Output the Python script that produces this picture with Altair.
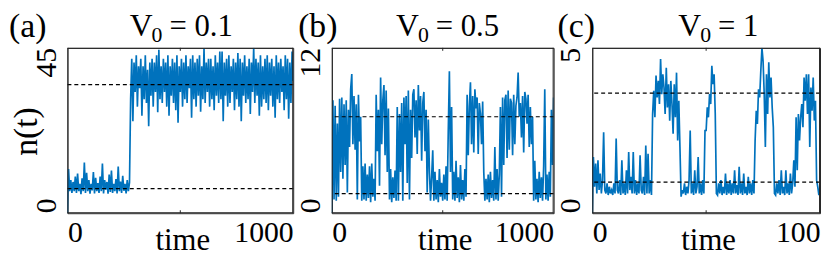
import altair as alt
import pandas as pd
import numpy as np

FONT = "Liberation Serif"
BLUE = "#0072BD"
FRAME = "#262626"

# ---------------- data ----------------
# panel (a): V0 = 0.1, time 0..275 (step 5) in the low state, 280..1000 (step 5) high state
A_LOW = [0, 12, 6, 9, 5.5, 8.5, 6, 10, 5.5, 10.8,
         6, 8, 5.2, 9.5, 6, 13.8, 5.5, 11, 6, 9,
         5.3, 8, 6.2, 11.2, 5.4, 9.6, 6, 8.2, 5.5, 10,
         6, 13.5, 5.4, 9, 6.4, 8.5, 5.3, 10.5, 5.8, 11.6,
         5.5, 8, 6, 9.3, 5.4, 12.7, 6, 8.6, 5.5, 10.2,
         6.1, 8, 5.4, 9, 6, 8.4]
A_HIGH = [31, 42, 25, 41, 33, 43, 29, 40, 34, 42,
          26.5, 40, 31, 43, 30, 39, 23.7, 41, 32, 42,
          29, 41, 33, 43, 27.5, 44.5, 31, 40, 30, 42,
          33, 41, 29, 43, 26.5, 40, 32, 42, 30, 41,
          28, 43, 24.6, 40, 33, 42, 29, 41, 31, 43,
          30, 40, 34, 42, 26, 43, 31, 41, 29, 42,
          32, 43, 27.6, 40, 31, 44.8, 30, 41, 33, 42,
          29, 42, 31, 40, 28, 43, 32, 41, 30, 44,
          31, 44, 25, 41, 32, 42, 29, 43, 30, 40,
          33, 42, 28, 41, 31, 43.6, 29, 42, 25, 41,
          32, 43, 30, 40, 31, 42, 27, 41, 33, 45,
          30, 42, 32, 41, 26.5, 43, 29, 40, 31, 42,
          30, 43, 28, 41, 32, 42, 29, 40, 26, 43,
          31, 41, 30, 42, 33, 40, 28, 43, 31, 42,
          25.7, 41, 30, 44, 36]
A_REFS = [35, 6.7]

# panel (b): V0 = 0.5, time 0..1000 step 5
B_VALUES = [0, 8.2, 1.0, 7.8, 0.9, 6.5, 1.2, 8.3, 3.0, 8.4,
            2.5, 7.9, 3.5, 8.2, 1.5, 7.5, 4.8, 9.0, 10.1, 5.0,
            8.5, 4.6, 7.9, 1.0, 8.6, 5.2, 7.0, 0.9, 3.4, 1.0,
            3.6, 0.9, 2.8, 1.1, 3.4, 0.8, 3.6, 1.2, 2.5, 0.9,
            8.6, 4.5, 7.5, 2.0, 9.85, 5.0, 8.2, 9.3, 4.2, 8.9,
            3.0, 7.6, 1.0, 3.2, 0.8, 2.6, 1.1, 3.1, 0.9, 7.7,
            0.9, 7.2, 3.0, 8.0, 0.9, 8.4, 5.0, 8.5, 2.2, 8.9,
            1.0, 7.5, 4.0, 8.6, 9.0, 5.5, 8.2, 4.3, 9.3, 6.0,
            8.5, 3.8, 8.0, 8.8, 4.5, 7.5, 1.5, 6.8, 3.0, 0.9,
            2.6, 4.56, 0.9, 3.0, 1.0, 2.4, 0.8, 3.2, 1.2, 2.2,
            0.9, 2.8, 1.0, 3.4, 0.9, 6.0, 10.3, 3.0, 7.7, 1.0,
            3.0, 0.9, 3.8, 1.1, 2.6, 0.8, 3.5, 1.0, 2.4, 0.9,
            3.2, 1.2, 8.6, 4.2, 7.8, 9.5, 5.0, 8.5, 4.4, 9.0,
            7.6, 8.4, 4.3, 8.0, 7.2, 5.0, 8.1, 3.0, 0.9, 2.5,
            1.0, 2.8, 0.8, 3.0, 1.1, 2.4, 0.9, 4.8, 1.0, 3.2,
            0.9, 2.8, 7.7, 1.2, 8.4, 3.5, 8.2, 8.6, 4.0, 8.9,
            4.6, 8.3, 8.0, 4.2, 8.6, 5.0, 7.8, 8.4, 10.2, 7.0,
            8.0, 5.5, 8.5, 4.4, 8.8, 8.3, 6.5, 8.6, 4.8, 7.7,
            5.0, 7.0, 0.9, 3.8, 1.0, 2.5, 0.8, 3.0, 1.1, 2.6,
            0.9, 3.4, 9.0, 1.0, 2.8, 0.9, 3.0, 1.2, 7.5, 3.5,
            8.4]
B_REFS = [7.0, 1.42]

# panel (c): V0 = 1, time 0..100 step 0.5
C_VALUES = [0, 1.7, 0.8, 1.5, 0.6, 1.6, 0.7, 1.2, 0.6, 1.0,
            2.45, 0.7, 0.6, 0.9, 0.55, 0.8, 0.6, 0.7, 0.55, 0.9,
            0.6, 2.26, 0.7, 0.6, 1.0, 0.55, 1.6, 0.6, 0.9, 0.55,
            1.3, 0.6, 1.85, 0.7, 1.1, 0.6, 1.85, 0.6, 1.0, 0.55,
            0.9, 0.6, 1.75, 0.7, 0.6, 1.1, 0.55, 2.05, 0.6, 1.8,
            0.6, 1.0, 0.55, 3.0, 3.7, 2.9, 4.16, 3.5, 4.0, 3.3,
            4.66, 3.6, 4.2, 3.8, 3.0, 4.4, 3.2, 3.9, 2.8, 4.0,
            3.3, 2.4, 3.9, 2.9, 4.25, 2.2, 3.4, 2.0, 0.5, 0.7,
            0.6, 0.9, 0.55, 0.8, 0.6, 1.0, 2.5, 0.6, 0.9, 0.55,
            1.3, 0.6, 0.8, 1.7, 0.6, 0.9, 0.55, 1.0, 0.6, 2.5,
            2.5, 3.2, 2.9, 3.6, 3.3, 4.46, 3.9, 4.2, 3.0, 0.6,
            0.55, 0.9, 0.6, 1.0, 0.55, 0.8, 0.6, 1.2, 0.55, 0.9,
            0.6, 1.0, 0.55, 0.9, 0.6, 1.3, 0.6, 0.85, 0.55, 1.4,
            0.6, 0.9, 0.55, 1.2, 0.6, 0.8, 0.55, 1.1, 0.6, 0.9,
            0.55, 1.0, 0.6, 2.2, 3.1, 2.7, 3.75, 3.5, 4.3, 5.0,
            4.6, 3.6, 2.0, 4.2, 3.0, 4.56, 3.5, 4.1, 3.2, 2.6,
            0.6, 0.55, 0.9, 0.6, 1.0, 0.55, 1.3, 0.6, 0.8, 0.55,
            1.3, 0.6, 0.9, 0.55, 1.2, 0.6, 0.9, 1.6, 0.8, 2.9,
            1.3, 3.0, 2.2, 2.9, 3.3, 2.6, 4.1, 3.4, 4.2, 3.0,
            4.2, 2.0, 3.8, 3.1, 4.1, 2.8, 3.4, 1.0, 0.8, 0.55,
            0.8]
C_REFS = [3.63, 0.94]

# time grids (sampling instants of the traces)
a_t = list(np.arange(len(A_LOW)) * 5.0) + list(280 + np.arange(len(A_HIGH)) * 5.0)
df_a = pd.DataFrame({"t": a_t, "n": A_LOW + A_HIGH})
df_b = pd.DataFrame({"t": np.arange(len(B_VALUES)) * 5.0, "n": B_VALUES})
df_c = pd.DataFrame({"t": np.arange(len(C_VALUES)) * 0.5, "n": C_VALUES})

H = 167
AX_TEXT = dict(labelFont=FONT, labelFontSize=30, labelColor="#000",
               titleFont=FONT, titleFontSize=31, titleFontWeight="normal", titleColor="#000",
               grid=False, ticks=False, tickSize=0, domain=False)


def txt(s, x, y, size, align="left", baseline="alphabetic"):
    return alt.Chart(pd.DataFrame({"s": [s]})).mark_text(
        font=FONT, fontSize=size, align=align, baseline=baseline, color="#000"
    ).encode(text="s:N", x=alt.value(x), y=alt.value(y))


def ylabel(value, yscale, align):
    # rotated y tick label placed through the y scale
    return alt.Chart(pd.DataFrame({"n": [value], "s": [str(value)]})).mark_text(
        font=FONT, fontSize=30, angle=270, align=align, baseline="alphabetic", color="#000"
    ).encode(text="s:N", y=alt.Y("n:Q", scale=yscale), x=alt.value(-12))


def edge(x1, x2, y1, y2):
    return alt.Chart(pd.DataFrame({"k": [0]})).mark_rule(
        color=FRAME, strokeWidth=1
    ).encode(x=alt.value(x1), x2=alt.value(x2), y=alt.value(y1), y2=alt.value(y2))


def panel(df, refs, xmax, ymax, width, letter, letter_x, vrest, vx, ytitle):
    xscale = alt.Scale(domain=[0, xmax], nice=False, zero=False)
    yscale = alt.Scale(domain=[0, ymax], nice=False, zero=False)
    xenc = alt.X(
        "t:Q", scale=xscale, title="time",
        axis=alt.Axis(
            values=[0, xmax], format="d", labelFlush=True, labelPadding=5,
            titleBaseline="alphabetic", titleY=37, titleX=width / 2 + 2, **AX_TEXT,
        ),
    )
    yaxis = dict(values=[0, ymax], labels=False, **AX_TEXT)
    if ytitle:
        yaxis.update(titleFontSize=34, titleAngle=270, titleAlign="center",
                     titleBaseline="alphabetic", titleX=-31, titleY=84)
        yenc = alt.Y("n:Q", scale=yscale, title=ytitle, axis=alt.Axis(**yaxis))
    else:
        yenc = alt.Y("n:Q", scale=yscale, title=None, axis=alt.Axis(**yaxis))

    line = alt.Chart(df).mark_line(color=BLUE, strokeWidth=1.7, clip=True).encode(x=xenc, y=yenc)
    dashed = alt.Chart(pd.DataFrame({"n": refs})).mark_rule(
        color="#000", strokeWidth=1.1, strokeDash=[4, 3]
    ).encode(y=alt.Y("n:Q", scale=yscale))
    mid = pd.DataFrame({"t": [xmax / 2]})
    tick_top = alt.Chart(mid).mark_rule(color=FRAME, strokeWidth=1).encode(
        x=alt.X("t:Q", scale=xscale), y=alt.value(0), y2=alt.value(3))
    tick_bot = alt.Chart(mid).mark_rule(color=FRAME, strokeWidth=1).encode(
        x=alt.X("t:Q", scale=xscale), y=alt.value(H - 3), y2=alt.value(H))
    frame = [
        edge(0, width, 0.5, 0.5),
        edge(0, width, H - 0.5, H - 0.5),
        edge(0.5, 0.5, 0, H),
        edge(width - 0.5, width - 0.5, 0, H),
    ]
    ylab_lo = ylabel(0, yscale, "left")
    ylab_hi = ylabel(ymax, yscale, "right")
    lab = txt(letter, letter_x, -11, 34)
    v = txt("V", vx, -12, 32, align="right")
    sub = txt("0", vx - 1, -6, 22)
    rest = txt(vrest, vx + 17, -12, 31)
    return alt.layer(line, dashed, tick_top, tick_bot, *frame, ylab_lo, ylab_hi,
                     lab, v, sub, rest).properties(width=width, height=H)


pa = panel(df_a, A_REFS, 1000, 45, 228, "(a)", -59, "= 0.1", 86, "n(t)")
pb = panel(df_b, B_REFS, 1000, 12, 224, "(b)", -34, "= 0.5", 88, None)
pc = panel(df_c, C_REFS, 100, 5, 230, "(c)", -35, "= 1", 110, None)

chart = alt.hconcat(pa, pb, pc, spacing=39, bounds="flush").properties(
    padding={"left": 0, "top": 0, "right": 0, "bottom": 0}, background="white"
).configure_view(
    stroke=FRAME, strokeWidth=1
).configure_axis(**AX_TEXT)

chart.save("out.html", embed_options={"renderer": "svg", "actions": False})
